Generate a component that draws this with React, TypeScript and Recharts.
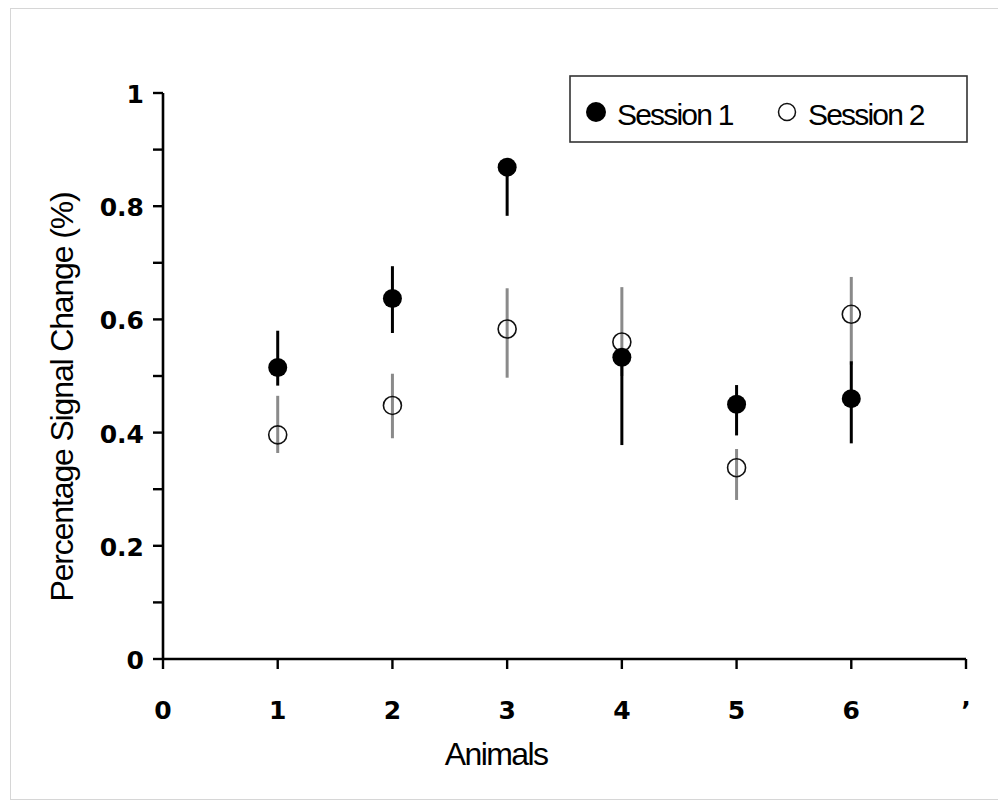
import { ScatterChart, Scatter, XAxis, YAxis, ErrorBar } from "recharts";

// values
const animals = [1, 2, 3, 4, 5, 6];
const session1Mean = [0.515, 0.637, 0.869, 0.533, 0.45, 0.46];
const session1Low = [0.483, 0.576, 0.783, 0.378, 0.395, 0.381];
const session1High = [0.58, 0.694, 0.869, 0.533, 0.484, 0.526];
const session2Mean = [0.396, 0.448, 0.583, 0.56, 0.338, 0.609];
const session2Low = [0.364, 0.39, 0.497, 0.5, 0.281, 0.52];
const session2High = [0.465, 0.504, 0.655, 0.657, 0.371, 0.675];

const xTicks = [0, 1, 2, 3, 4, 5, 6, 7];
const xTickLabels = ["0", "1", "2", "3", "4", "5", "6", "\u2019"];
const yTicks = [0, 0.1, 0.2, 0.3, 0.4, 0.5, 0.6, 0.7, 0.8, 0.9, 1];
const yTickLabels = ["0", "", "0.2", "", "0.4", "", "0.6", "", "0.8", "", "1"];
const seriesNames = ["Session 1", "Session 2"];

const build = (mean: number[], low: number[], high: number[]) =>
  animals.map((a, i) => ({
    animal: a,
    value: mean[i],
    err: [mean[i] - low[i], high[i] - mean[i]],
  }));

const session1 = build(session1Mean, session1Low, session1High);
const session2 = build(session2Mean, session2Low, session2High);

const tickFont = "'DejaVu Sans', sans-serif";
const titleFont = "'Liberation Sans', Arial, sans-serif";

const XTick = (props: any) => {
  const { x, y, index } = props;
  return (
    <text x={x} y={y + 50} textAnchor="middle" fontFamily={tickFont} fontWeight="bold" fontSize={25} fill="#000">
      {xTickLabels[index]}
    </text>
  );
};

const YTick = (props: any) => {
  const { x, y, index } = props;
  return (
    <text x={x - 9} y={y + 10} textAnchor="end" fontFamily={tickFont} fontWeight="bold" fontSize={25} fill="#000">
      {yTickLabels[index]}
    </text>
  );
};

const FilledDot = (props: any) => <circle cx={props.cx} cy={props.cy} r={9.5} fill="#000" />;
const OpenDot = (props: any) => (
  <circle cx={props.cx} cy={props.cy} r={9} fill="none" stroke="#111" strokeWidth={1.6} />
);

export default function App() {
  return (
    <div
      style={{
        position: "relative",
        marginLeft: 2,
        width: 994,
        height: 790,
        border: "1px solid #d6d6d6",
        background: "#fff",
      }}
    >
      <ScatterChart width={992} height={788} margin={{ top: 84, right: 37, bottom: 38, left: 60 }}>
        <XAxis
          type="number"
          dataKey="animal"
          domain={[0, 7]}
          ticks={xTicks}
          interval={0}
          tickSize={10}
          tickMargin={0}
          height={100}
          axisLine={{ stroke: "#000", strokeWidth: 2.6 }}
          tickLine={{ stroke: "#000", strokeWidth: 2.4 }}
          tick={<XTick />}
        />
        <YAxis
          type="number"
          dataKey="value"
          domain={[0, 1]}
          ticks={yTicks}
          interval={0}
          tickSize={10}
          tickMargin={0}
          width={92}
          axisLine={{ stroke: "#000", strokeWidth: 2.6 }}
          tickLine={{ stroke: "#000", strokeWidth: 2.4 }}
          tick={<YTick />}
        />
        <Scatter name={seriesNames[1]} data={session2} shape={<OpenDot />} isAnimationActive={false}>
          <ErrorBar dataKey="err" direction="y" width={0} stroke="#8a8a8a" strokeWidth={3} />
        </Scatter>
        <Scatter name={seriesNames[0]} data={session1} shape={<FilledDot />} isAnimationActive={false}>
          <ErrorBar dataKey="err" direction="y" width={0} stroke="#000" strokeWidth={3} />
        </Scatter>
      </ScatterChart>

      {/* axis titles */}
      <svg width={992} height={788} style={{ position: "absolute", left: 0, top: 0, pointerEvents: "none" }}>
        <text
          transform="translate(62, 388) rotate(-90)"
          textAnchor="middle"
          fontFamily={titleFont}
          fontSize={32}
          letterSpacing={-1.15}
          fill="#000"
        >
          Percentage Signal Change (%)
        </text>
        <text x={485} y={756} textAnchor="middle" fontFamily={titleFont} fontSize={32} letterSpacing={-1.6} fill="#000">
          Animals
        </text>
      </svg>

      {/* legend */}
      <svg width={400} height={69} style={{ position: "absolute", left: 558, top: 66 }}>
        <rect x={1} y={1} width={397} height={66} fill="#fff" stroke="#333" strokeWidth={1.6} />
        <circle cx={27} cy={37} r={10} fill="#000" />
        <text x={48} y={50} fontFamily={titleFont} fontSize={30} letterSpacing={-1.8} fill="#000">
          {seriesNames[0]}
        </text>
        <circle cx={218} cy={37} r={8.5} fill="none" stroke="#111" strokeWidth={1.5} />
        <text x={239} y={50} fontFamily={titleFont} fontSize={30} letterSpacing={-1.8} fill="#000">
          {seriesNames[1]}
        </text>
      </svg>
    </div>
  );
}
